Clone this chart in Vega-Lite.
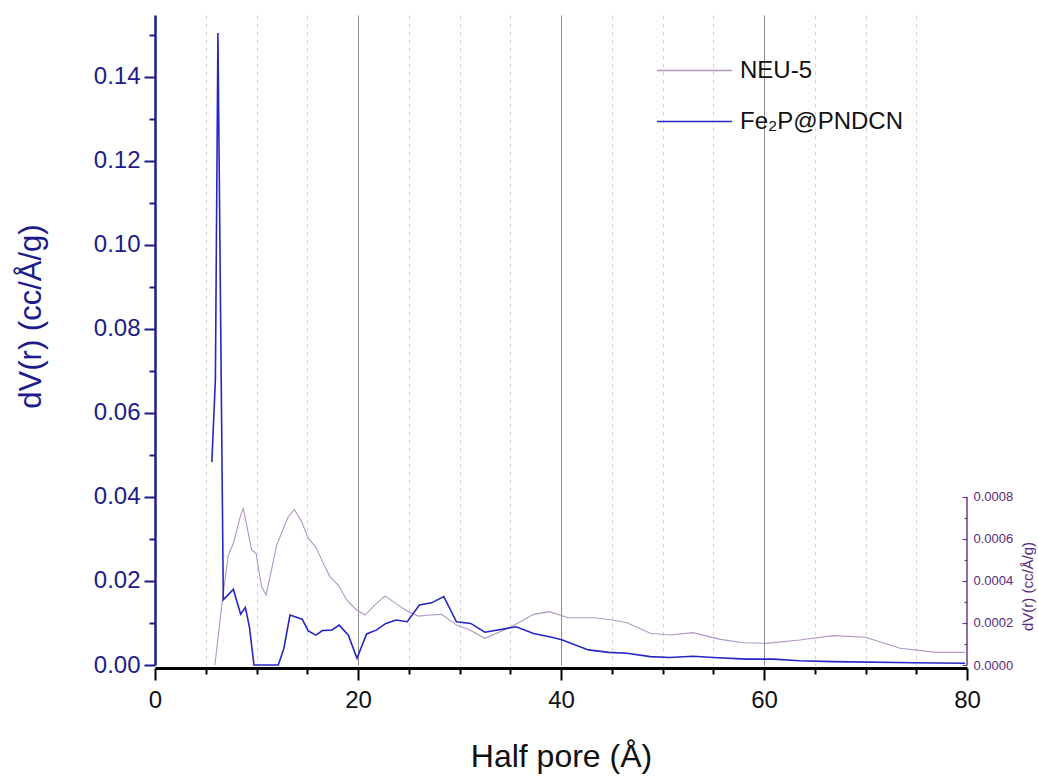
{
  "$schema": "https://vega.github.io/schema/vega-lite/v6.json",
  "width": 812,
  "height": 650,
  "autosize": {"type": "none"},
  "padding": {"left": 155, "top": 15, "right": 71, "bottom": 111},
  "background": "white",
  "config": {"view": {"stroke": null}, "font": "Liberation Sans"},
  "datasets": {
    "neu5": [
      {"s": "NEU-5", "r": 5.9, "v": 0},
      {"s": "NEU-5", "r": 6.67, "v": 0.00032},
      {"s": "NEU-5", "r": 7.22, "v": 0.000524},
      {"s": "NEU-5", "r": 7.72, "v": 0.00058},
      {"s": "NEU-5", "r": 8.44, "v": 0.000714},
      {"s": "NEU-5", "r": 8.7, "v": 0.000746},
      {"s": "NEU-5", "r": 9.52, "v": 0.000548},
      {"s": "NEU-5", "r": 9.95, "v": 0.000532},
      {"s": "NEU-5", "r": 10.5, "v": 0.000373},
      {"s": "NEU-5", "r": 10.94, "v": 0.000333},
      {"s": "NEU-5", "r": 11.33, "v": 0.00042},
      {"s": "NEU-5", "r": 11.99, "v": 0.000571},
      {"s": "NEU-5", "r": 13.13, "v": 0.000706},
      {"s": "NEU-5", "r": 13.73, "v": 0.000741},
      {"s": "NEU-5", "r": 14.45, "v": 0.000682},
      {"s": "NEU-5", "r": 15.1, "v": 0.000603},
      {"s": "NEU-5", "r": 15.83, "v": 0.000563},
      {"s": "NEU-5", "r": 16.58, "v": 0.000484},
      {"s": "NEU-5", "r": 17.24, "v": 0.00042},
      {"s": "NEU-5", "r": 18.06, "v": 0.000381},
      {"s": "NEU-5", "r": 18.88, "v": 0.00031},
      {"s": "NEU-5", "r": 19.87, "v": 0.000262},
      {"s": "NEU-5", "r": 20.69, "v": 0.000238},
      {"s": "NEU-5", "r": 21.67, "v": 0.000286},
      {"s": "NEU-5", "r": 22.66, "v": 0.000329},
      {"s": "NEU-5", "r": 23.81, "v": 0.00029},
      {"s": "NEU-5", "r": 24.96, "v": 0.000254},
      {"s": "NEU-5", "r": 25.94, "v": 0.000233},
      {"s": "NEU-5", "r": 27.09, "v": 0.000238},
      {"s": "NEU-5", "r": 28.24, "v": 0.000241},
      {"s": "NEU-5", "r": 29.72, "v": 0.00019},
      {"s": "NEU-5", "r": 31.03, "v": 0.000167},
      {"s": "NEU-5", "r": 32.5, "v": 0.000127},
      {"s": "NEU-5", "r": 35.1, "v": 0.000182},
      {"s": "NEU-5", "r": 37.3, "v": 0.000241},
      {"s": "NEU-5", "r": 38.85, "v": 0.000254},
      {"s": "NEU-5", "r": 40.72, "v": 0.000225},
      {"s": "NEU-5", "r": 43.2, "v": 0.000225},
      {"s": "NEU-5", "r": 45.1, "v": 0.000214},
      {"s": "NEU-5", "r": 46.5, "v": 0.000201},
      {"s": "NEU-5", "r": 48.8, "v": 0.000151},
      {"s": "NEU-5", "r": 50.7, "v": 0.000143},
      {"s": "NEU-5", "r": 53.0, "v": 0.000154},
      {"s": "NEU-5", "r": 55.7, "v": 0.000122},
      {"s": "NEU-5", "r": 58.0, "v": 0.000106},
      {"s": "NEU-5", "r": 60.25, "v": 0.000103},
      {"s": "NEU-5", "r": 63.5, "v": 0.000119},
      {"s": "NEU-5", "r": 66.8, "v": 0.00014},
      {"s": "NEU-5", "r": 70.0, "v": 0.000132},
      {"s": "NEU-5", "r": 73.4, "v": 0.0000794},
      {"s": "NEU-5", "r": 77.0, "v": 0.0000603},
      {"s": "NEU-5", "r": 79.8, "v": 0.00006}
    ],
    "fe2p": [
      {"s": "Fe₂P@PNDCN", "r": 5.6, "v": 0.0483},
      {"s": "Fe₂P@PNDCN", "r": 5.95, "v": 0.068},
      {"s": "Fe₂P@PNDCN", "r": 6.2, "v": 0.1505},
      {"s": "Fe₂P@PNDCN", "r": 6.73, "v": 0.0155},
      {"s": "Fe₂P@PNDCN", "r": 7.72, "v": 0.018},
      {"s": "Fe₂P@PNDCN", "r": 8.44, "v": 0.0121},
      {"s": "Fe₂P@PNDCN", "r": 8.9, "v": 0.0137},
      {"s": "Fe₂P@PNDCN", "r": 9.3, "v": 0.0091},
      {"s": "Fe₂P@PNDCN", "r": 9.75, "v": 0.0},
      {"s": "Fe₂P@PNDCN", "r": 12.15, "v": 0.0},
      {"s": "Fe₂P@PNDCN", "r": 12.7, "v": 0.004},
      {"s": "Fe₂P@PNDCN", "r": 13.3, "v": 0.0119},
      {"s": "Fe₂P@PNDCN", "r": 14.5, "v": 0.0109},
      {"s": "Fe₂P@PNDCN", "r": 15.1, "v": 0.0081},
      {"s": "Fe₂P@PNDCN", "r": 15.85, "v": 0.0071},
      {"s": "Fe₂P@PNDCN", "r": 16.5, "v": 0.0082},
      {"s": "Fe₂P@PNDCN", "r": 17.4, "v": 0.0083},
      {"s": "Fe₂P@PNDCN", "r": 18.15, "v": 0.0095},
      {"s": "Fe₂P@PNDCN", "r": 19.05, "v": 0.0071},
      {"s": "Fe₂P@PNDCN", "r": 19.9, "v": 0.0016},
      {"s": "Fe₂P@PNDCN", "r": 20.85, "v": 0.0074},
      {"s": "Fe₂P@PNDCN", "r": 21.8, "v": 0.0083},
      {"s": "Fe₂P@PNDCN", "r": 22.75, "v": 0.0099},
      {"s": "Fe₂P@PNDCN", "r": 23.75, "v": 0.0107},
      {"s": "Fe₂P@PNDCN", "r": 24.85, "v": 0.0103},
      {"s": "Fe₂P@PNDCN", "r": 26.05, "v": 0.0143},
      {"s": "Fe₂P@PNDCN", "r": 27.25, "v": 0.0148},
      {"s": "Fe₂P@PNDCN", "r": 28.45, "v": 0.0163},
      {"s": "Fe₂P@PNDCN", "r": 29.7, "v": 0.0103},
      {"s": "Fe₂P@PNDCN", "r": 31.1, "v": 0.0099},
      {"s": "Fe₂P@PNDCN", "r": 32.5, "v": 0.0078},
      {"s": "Fe₂P@PNDCN", "r": 35.57, "v": 0.0091},
      {"s": "Fe₂P@PNDCN", "r": 37.3, "v": 0.0075},
      {"s": "Fe₂P@PNDCN", "r": 39.1, "v": 0.0066},
      {"s": "Fe₂P@PNDCN", "r": 40.07, "v": 0.006},
      {"s": "Fe₂P@PNDCN", "r": 42.7, "v": 0.0036},
      {"s": "Fe₂P@PNDCN", "r": 44.7, "v": 0.003},
      {"s": "Fe₂P@PNDCN", "r": 46.5, "v": 0.0028},
      {"s": "Fe₂P@PNDCN", "r": 48.8, "v": 0.002},
      {"s": "Fe₂P@PNDCN", "r": 50.7, "v": 0.0018},
      {"s": "Fe₂P@PNDCN", "r": 53.0, "v": 0.0021},
      {"s": "Fe₂P@PNDCN", "r": 55.0, "v": 0.0018},
      {"s": "Fe₂P@PNDCN", "r": 58.3, "v": 0.0014},
      {"s": "Fe₂P@PNDCN", "r": 60.9, "v": 0.0014},
      {"s": "Fe₂P@PNDCN", "r": 63.5, "v": 0.001},
      {"s": "Fe₂P@PNDCN", "r": 66.8, "v": 0.0008},
      {"s": "Fe₂P@PNDCN", "r": 74.7, "v": 0.00055},
      {"s": "Fe₂P@PNDCN", "r": 79.8, "v": 0.0004}
    ]
  },
  "layer": [
    {
      "layer": [
        {
          "data": {"name": "neu5"},
          "mark": {"type": "line", "strokeWidth": 1.1},
          "encoding": {
            "x": {
              "field": "r", "type": "quantitative",
              "scale": {"domain": [0, 80], "nice": false, "zero": false},
              "axis": {
                "title": "Half pore (Å)", "titleFontSize": 32, "titleFontWeight": "normal", "titleColor": "#111111",
                "titleBaseline": "alphabetic", "titleY": 98,
                "values": [0, 5, 10, 15, 20, 25, 30, 35, 40, 45, 50, 55, 60, 65, 70, 75, 80],
                "labelExpr": "datum.value % 20 == 0 ? datum.label : ''",
                "labelFontSize": 24, "labelColor": "#111111", "labelPadding": 8, "labelFlush": false, "labelOverlap": false,
                "domainColor": "#000000", "domainWidth": 3, "offset": 3,
                "tickColor": "#000000", "tickWidth": 2,
                "tickSize": {"condition": {"test": "datum.value % 20 == 0", "value": 12}, "value": 6},
                "grid": true, "gridWidth": 1,
                "gridColor": {"condition": {"test": "datum.value % 20 == 0", "value": "#8c8c8c"}, "value": "#d4d4d4"},
                "gridDash": {"condition": {"test": "datum.value % 20 == 0", "value": []}, "value": [4, 4]},
                "gridOpacity": {"condition": {"test": "datum.value == 0 || datum.value == 80", "value": 0}, "value": 1}
              }
            },
            "y": {
              "field": "v", "type": "quantitative",
              "scale": {"domain": [0, 0.0030952], "nice": false, "zero": false},
              "axis": {
                "orient": "right",
                "title": "dV(r) (cc/Å/g)", "titleFontSize": 15, "titleFontWeight": "normal", "titleColor": "#5a2a80",
                "titleAngle": 270, "titleX": 60, "titleY": 571, "titleBaseline": "middle",
                "values": [0, 0.0001, 0.0002, 0.0003, 0.0004, 0.0005, 0.0006, 0.0007, 0.0008],
                "labelExpr": "round(datum.value*10000) % 2 == 0 ? format(datum.value, '.4f') : ''",
                "labelFontSize": 13, "labelColor": "#5a2a80", "labelPadding": 11, "labelFlush": false, "labelOverlap": false,
                "domain": false, "grid": false,
                "tickColor": "#6a3d8c", "tickWidth": 1.2,
                "tickSize": {"condition": {"test": "round(datum.value*10000) % 2 == 0", "value": -5}, "value": -3}
              }
            },
            "color": {
              "field": "s", "type": "nominal",
              "scale": {"domain": ["NEU-5", "Fe₂P@PNDCN"], "range": ["#b096c4", "#2626c4"]},
              "legend": {
                "orient": "none", "legendX": 501, "legendY": 17, "title": null,
                "symbolType": "stroke", "symbolSize": 5625, "symbolStrokeWidth": 1.5,
                "labelFontSize": 24, "labelColor": "#111111", "labelOffset": 7, "rowPadding": -18, "labelLimit": 0
              }
            }
          }
        },
        {
          "data": {"values": [{}]},
          "mark": {"type": "rule", "color": "#6a3d8c", "strokeWidth": 1.5},
          "encoding": {
            "x": {"datum": 80, "type": "quantitative"},
            "y": {"datum": 0, "type": "quantitative"},
            "y2": {"datum": 0.0008}
          }
        }
      ]
    },
    {
      "data": {"name": "fe2p"},
      "mark": {"type": "line", "strokeWidth": 1.6},
      "encoding": {
        "x": {
          "field": "r", "type": "quantitative",
          "scale": {"domain": [0, 80], "nice": false, "zero": false}
        },
        "y": {
          "field": "v", "type": "quantitative",
          "scale": {"domain": [0, 0.15476], "nice": false, "zero": false},
          "axis": {
            "orient": "left",
            "title": "dV(r) (cc/Å/g)", "titleFontSize": 31, "titleFontWeight": "normal", "titleColor": "#1c1c8a",
            "titleAngle": 270, "titleX": -124, "titleY": 301, "titleBaseline": "middle",
            "values": [0, 0.01, 0.02, 0.03, 0.04, 0.05, 0.06, 0.07, 0.08, 0.09, 0.1, 0.11, 0.12, 0.13, 0.14, 0.15],
            "labelExpr": "round(datum.value*100) % 2 == 0 ? format(datum.value, '.2f') : ''",
            "labelFontSize": 24, "labelColor": "#1c1c8a", "labelPadding": 4, "labelFlush": false, "labelOverlap": false,
            "domainColor": "#1c1c8a", "domainWidth": 2.5, "grid": false,
            "tickColor": "#1c1c8a", "tickWidth": 2,
            "tickSize": {"condition": {"test": "round(datum.value*100) % 2 == 0", "value": 11}, "value": 6}
          }
        },
        "color": {
          "field": "s", "type": "nominal",
          "scale": {"domain": ["NEU-5", "Fe₂P@PNDCN"], "range": ["#b096c4", "#2626c4"]},
          "legend": {
            "orient": "none", "legendX": 501, "legendY": 17, "title": null,
            "symbolType": "stroke", "symbolSize": 5625, "symbolStrokeWidth": 1.5,
            "labelFontSize": 24, "labelColor": "#111111", "labelOffset": 7, "rowPadding": -18, "labelLimit": 0
          }
        }
      }
    }
  ],
  "resolve": {"scale": {"y": "independent"}, "axis": {"y": "independent"}}
}
